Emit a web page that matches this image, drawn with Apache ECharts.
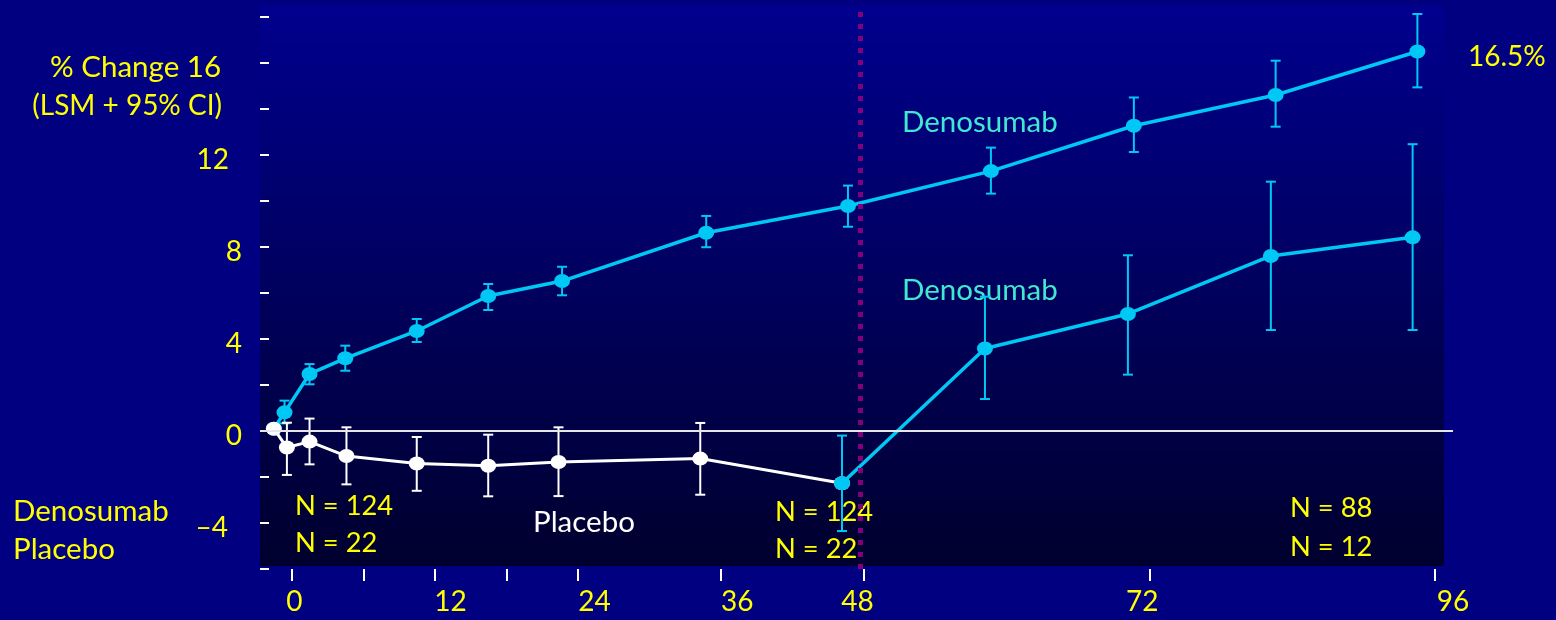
<!DOCTYPE html>
<html>
<head>
<meta charset="utf-8">
<script src="https://cdn.jsdelivr.net/npm/echarts@6/dist/echarts.min.js"></script>
<style>
  html, body { margin: 0; padding: 0; background: #000080; }
  #chart { width: 1556px; height: 620px; }
</style>
</head>
<body>
<div id="chart"></div>
<script>
// Lumbar spine BMD, % change from baseline (LSM with 95% CI), by month of visit

// Long-term denosumab arm
const denoMonths = [0, 0.9, 3, 6, 12, 18, 24.2, 36.3, 48.2, 60.2, 72.2, 84.1, 96];
const denoLsm    = [0.1, 0.81, 2.48, 3.16, 4.35, 5.87, 6.52, 8.62, 9.78, 11.3, 13.27, 14.61, 16.5];
const denoLow    = [null, 0.33, 2.03, 2.62, 3.87, 5.26, 5.9, 7.99, 8.88, 10.32, 12.13, 13.23, 14.94];
const denoHigh   = [null, 1.32, 2.91, 3.71, 4.87, 6.39, 7.14, 9.35, 10.67, 12.32, 14.5, 16.1, 18.13];

// Placebo arm (first four years)
const placeboMonths = [0, 1.1, 3, 6.1, 12, 18, 23.9, 35.8, 47.7];
const placeboLsm    = [0.1, -0.72, -0.46, -1.09, -1.41, -1.51, -1.35, -1.2, -2.27];
const placeboLow    = [null, -1.91, -1.45, -2.32, -2.6, -2.84, -2.83, -2.77, null];
const placeboHigh   = [null, 0.36, 0.54, 0.16, -0.26, -0.16, 0.16, 0.35, null];

// Former placebo group after switching to denosumab
const crossMonths = [47.7, 59.7, 71.7, 83.7, 95.6];
const crossLsm    = [-2.27, 3.59, 5.09, 7.61, 8.42];
const crossLow    = [-4.35, 1.39, 2.45, 4.39, 4.39];
const crossHigh   = [-0.2, 5.84, 7.64, 10.84, 12.47];

// Month of the switch (dotted divider)
const switchMonth = 49.2;

// Y axis ticks and labels
const yTickValues  = [-6, -4, -2, 0, 2, 4, 6, 8, 10, 12, 14, 16, 18];
const yLabelValues = [16, 12, 8, 4, 0, -4];
const yLabelTexts  = ['% Change 16', '12', '8', '4', '0', '\u20134'];

// Month axis ticks and labels
const monthTicks   = [0, 6, 12, 18, 24, 36, 48, 72, 96];
const monthLabelAt = [0.2, 13.3, 25.4, 37.4, 47.5, 71.4, 97.5];
const monthLabels  = ['0', '12', '24', '36', '48', '72', '96'];

// ---------------------------------------------------------------
const CYAN = '#00C8F5';
const WHITE = '#FFFFFF';
const YELLOW = '#FFFF00';
const MINT = '#40E8D0';
const FONT = 'Lato';

function zip(xs, ys) { return xs.map((x, i) => [x, ys[i]]); }
function bars(xs, lo, hi) {
  const out = [];
  xs.forEach((x, i) => { if (lo[i] != null && hi[i] != null) out.push([x, lo[i], hi[i]]); });
  return out;
}
function errorBar(color, cap) {
  return function (params, api) {
    const x = api.value(0);
    const top = api.coord([x, api.value(2)]);
    const bot = api.coord([x, api.value(1)]);
    const style = { stroke: color, lineWidth: 2 };
    return {
      type: 'group',
      children: [
        { type: 'line', shape: { x1: top[0], y1: top[1], x2: bot[0], y2: bot[1] }, style },
        { type: 'line', shape: { x1: top[0] - cap, y1: top[1], x2: top[0] + cap, y2: top[1] }, style },
        { type: 'line', shape: { x1: bot[0] - cap, y1: bot[1], x2: bot[0] + cap, y2: bot[1] }, style }
      ]
    };
  };
}

// right-side padding for the wider y labels
const yLabelPad = { '16': 21, '12': 13, '-4': 14 };
const yRich = {};
Object.keys(yLabelPad).concat(['d']).forEach(k => {
  yRich['p' + k.replace('-', 'm')] = {
    color: YELLOW, fontSize: k === '16' ? 29.5 : 28, fontFamily: FONT,
    padding: [9, yLabelPad[k] || 0, 0, 0]
  };
});

function txt(text, x, y, color, size, align) {
  return {
    type: 'text', x: x, y: y, z: 0, silent: true,
    style: {
      text: text, fill: color, fontSize: size, fontFamily: FONT,
      align: align || 'left', verticalAlign: 'middle'
    }
  };
}

const chart = echarts.init(document.getElementById('chart'), null, { renderer: 'canvas' });

chart.setOption({
  backgroundColor: '#000080',
  animation: false,
  grid: { left: 260, right: 103, top: 6, bottom: 51, containLabel: false, outerBoundsMode: 'none' },
  xAxis: [
    {
      type: 'value', min: -1.158, max: 98.99, position: 'top', show: false,
      splitLine: { show: false }
    },
    {
      type: 'value', min: -2.69, max: 97.51, position: 'bottom',
      axisLine: { show: false, onZero: false },
      splitLine: { show: false },
      axisTick: {
        show: true, customValues: monthTicks, length: 12,
        lineStyle: { color: WHITE, width: 2 }
      },
      axisLabel: {
        show: true, customValues: monthLabelAt, margin: 33, verticalAlign: 'middle',
        color: YELLOW, fontSize: 28, fontFamily: FONT,
        formatter: v => {
          const i = monthLabelAt.findIndex(p => Math.abs(p - v) < 1e-6);
          return i >= 0 ? monthLabels[i] : '';
        }
      }
    }
  ],
  yAxis: {
    type: 'value', min: -6, max: 18.478,
    axisLine: { show: false, onZero: false },
    splitLine: { show: false },
    axisTick: {
      show: true, inside: true, length: 9, customValues: yTickValues,
      lineStyle: { color: WHITE, width: 2 }
    },
    axisLabel: {
      show: true, customValues: yLabelValues, margin: 18,
      color: YELLOW, fontSize: 28, fontFamily: FONT,
      formatter: v => {
        const i = yLabelValues.indexOf(v);
        if (i < 0) return '';
        const key = yLabelPad[String(v)] ? 'p' + String(v).replace('-', 'm') : 'pd';
        return '{' + key + '|' + yLabelTexts[i] + '}';
      },
      rich: yRich
    }
  },
  graphic: [
    {
      type: 'rect', z: -10, silent: true,
      shape: { x: 260, y: 6, width: 1184, height: 560 },
      style: {
        fill: new echarts.graphic.LinearGradient(0, 0, 0, 1, [
          { offset: 0, color: '#00008E' },
          { offset: 1, color: '#00002E' }
        ])
      }
    },
    txt('(LSM + 95% CI)', 222, 106, YELLOW, 28, 'right'),
    txt('Denosumab', 902, 122, MINT, 29.5),
    txt('Denosumab', 902, 290, MINT, 29.5),
    txt('16.5%', 1468, 57, YELLOW, 28),
    txt('Placebo', 533, 522, WHITE, 29.5),
    txt('N = 124', 295, 506, YELLOW, 27.3),
    txt('N = 22', 295, 543, YELLOW, 27.3),
    txt('N = 124', 775, 512, YELLOW, 27.3),
    txt('N = 22', 775, 549, YELLOW, 27.3),
    txt('N = 88', 1290, 508, YELLOW, 27.3),
    txt('N = 12', 1290, 547, YELLOW, 27.3),
    txt('Denosumab', 13, 511, YELLOW, 29.5),
    txt('Placebo', 13, 549, YELLOW, 29.5)
  ],
  series: [
    {
      // reference lines: zero and the switch month
      type: 'line', xAxisIndex: 0, data: [], z: 1, silent: true,
      markLine: {
        silent: true, symbol: 'none', label: { show: false },
        data: [
          { yAxis: 0, lineStyle: { color: '#E6E6E6', width: 2, type: 'solid' } },
          { xAxis: switchMonth, lineStyle: { color: '#84007A', width: 5, type: [5, 7] } }
        ]
      }
    },
    {
      name: 'Denosumab', type: 'line', xAxisIndex: 0, z: 2,
      data: zip(denoMonths, denoLsm),
      symbol: 'circle', symbolSize: [16, 14],
      itemStyle: { color: CYAN },
      lineStyle: { color: CYAN, width: 3.5 }
    },
    {
      type: 'custom', xAxisIndex: 0, z: 2, clip: false,
      data: bars(denoMonths, denoLow, denoHigh),
      encode: { x: 0, y: [1, 2] },
      renderItem: errorBar(CYAN, 5)
    },
    {
      name: 'Placebo', type: 'line', xAxisIndex: 0, z: 3,
      data: zip(placeboMonths, placeboLsm),
      symbol: 'circle', symbolSize: [16, 14],
      itemStyle: { color: WHITE },
      lineStyle: { color: WHITE, width: 3 }
    },
    {
      type: 'custom', xAxisIndex: 0, z: 3, clip: false,
      data: bars(placeboMonths, placeboLow, placeboHigh),
      encode: { x: 0, y: [1, 2] },
      renderItem: errorBar(WHITE, 5)
    },
    {
      name: 'Denosumab (switch)', type: 'line', xAxisIndex: 0, z: 4,
      data: zip(crossMonths, crossLsm),
      symbol: 'circle', symbolSize: [16, 14],
      itemStyle: { color: CYAN },
      lineStyle: { color: CYAN, width: 3.5 }
    },
    {
      type: 'custom', xAxisIndex: 0, z: 4, clip: false,
      data: bars(crossMonths, crossLow, crossHigh),
      encode: { x: 0, y: [1, 2] },
      renderItem: errorBar(CYAN, 5)
    }
  ]
});
</script>
</body>
</html>
